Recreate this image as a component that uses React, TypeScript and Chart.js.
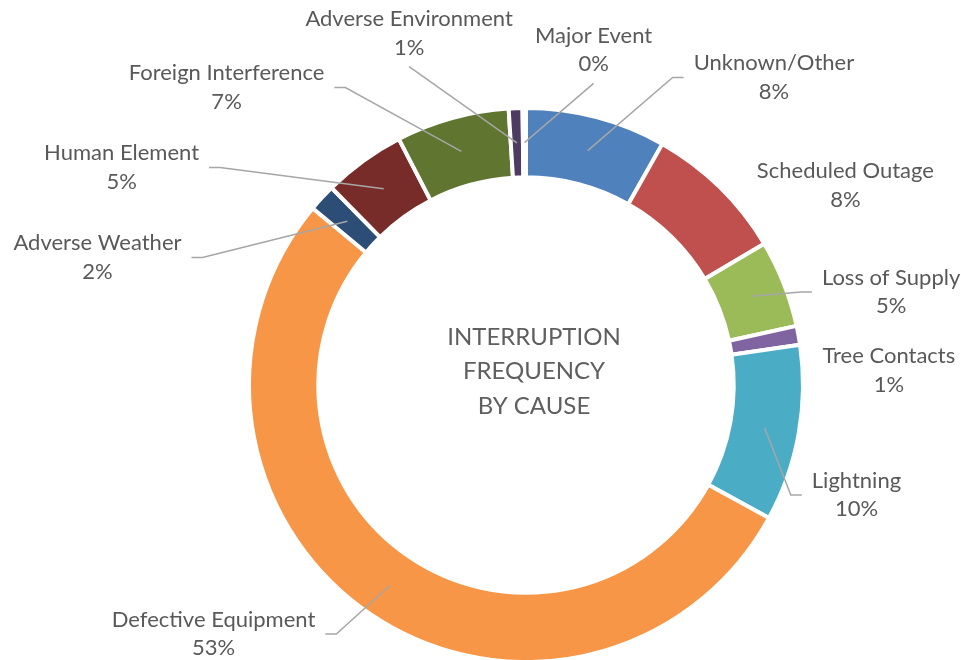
import React, { useEffect, useRef } from 'react';
import { Chart, registerables } from 'chart.js';

Chart.register(...registerables);

// ---- data ----
const categories = [
  'Unknown/Other',
  'Scheduled Outage',
  'Loss of Supply',
  'Tree Contacts',
  'Lightning',
  'Defective Equipment',
  'Adverse Weather',
  'Human Element',
  'Foreign Interference',
  'Adverse Environment',
  'Major Event',
];
const shares = [8.2, 8.3, 5.1, 1.1, 10.3, 53.1, 1.6, 4.8, 6.6, 0.8, 0.2];
const sliceColors = [
  '#4F81BD', '#C0504D', '#9BBB59', '#8064A2', '#4BACC6', '#F79646',
  '#2C4D75', '#772C2A', '#5F7530', '#4D3B62', '#276A7C',
];
const centerTitle = ['INTERRUPTION', 'FREQUENCY', 'BY CAUSE'];

// ---- label layout (block centre relative to ring centre, in units of outer radius) ----
const labelPlacement: [number, number][] = [
  [0.895, -1.110],
  [1.153, -0.720],
  [1.318, -0.336],
  [1.310, -0.052],
  [1.193, 0.397],
  [-1.128, 0.899],
  [-1.547, -0.460],
  [-1.460, -0.785],
  [-1.081, -1.074],
  [-0.422, -1.269],
  [0.244, -1.209],
];
const leaderShown = [true, false, true, false, true, true, true, true, true, true, true];

const FONT = 'Lato, "Open Sans", sans-serif';
const LABEL_SIZE = 22;
const LINE_H = 28.5;
const TEXT_COLOR = '#595959';

const labelPlugin = {
  id: 'outerLabels',
  afterDatasetsDraw(chart: any) {
    const meta = chart.getDatasetMeta(0);
    const ctx: CanvasRenderingContext2D = chart.ctx;
    const total = shares.reduce((a, b) => a + b, 0);
    ctx.save();
    ctx.font = `${LABEL_SIZE}px ${FONT}`;
    ctx.textAlign = 'center';
    ctx.textBaseline = 'middle';
    ctx.strokeStyle = '#A6A6A6';
    ctx.lineWidth = 1.5;
    let cx = 0, cy = 0;
    meta.data.forEach((arc: any, i: number) => {
      const p = arc.getProps(['x', 'y', 'startAngle', 'endAngle', 'innerRadius', 'outerRadius'], true);
      cx = p.x; cy = p.y;
      const mid = (p.startAngle + p.endAngle) / 2;
      const rr = (p.innerRadius + p.outerRadius) / 2;
      const tx = p.x + Math.cos(mid) * rr;
      const ty = p.y + Math.sin(mid) * rr;
      const [fx, fy] = labelPlacement[i];
      const lx = p.x + fx * p.outerRadius;
      const ly = p.y + fy * p.outerRadius;
      const pct = Math.round((shares[i] / total) * 100) + '%';
      const lines = [categories[i], pct];
      ctx.fillStyle = TEXT_COLOR;
      ctx.fillText(lines[0], lx, ly - LINE_H / 2);
      ctx.fillText(lines[1], lx, ly + LINE_H / 2);
      if (leaderShown[i]) {
        const w = Math.max(...lines.map((l) => ctx.measureText(l).width));
        const dx = tx - lx;
        const dy = ty - ly;
        ctx.beginPath();
        if (Math.abs(dy) > Math.abs(dx) * 0.9) {
          const sy = ly + Math.sign(dy) * (LINE_H / 2 + 8 + 11);
          ctx.moveTo(lx, sy);
          ctx.lineTo(tx, ty);
        } else {
          const s = Math.sign(dx);
          const sx = lx + s * (w / 2 + 10);
          ctx.moveTo(sx, ly);
          ctx.lineTo(sx + s * 11, ly);
          ctx.lineTo(tx, ty);
        }
        ctx.stroke();
      }
    });
    // centre title
    ctx.font = `24px ${FONT}`;
    ctx.fillStyle = '#5F5F5F';
    centerTitle.forEach((t, k) => {
      ctx.fillText(t, cx + 8, cy - 13.5 + (k - 1) * 34.5);
    });
    ctx.restore();
  },
};

export default function App() {
  const ref = useRef<HTMLCanvasElement | null>(null);
  useEffect(() => {
    document.body.style.margin = '0';
    document.body.style.overflow = 'hidden';
    const canvas = ref.current;
    if (!canvas) return;
    const chart = new Chart(canvas, {
      type: 'doughnut',
      data: {
        labels: categories,
        datasets: [
          {
            data: shares,
            backgroundColor: sliceColors,
            borderColor: '#FFFFFF',
            borderWidth: 4,
            radius: 277,
          },
        ],
      },
      options: {
        responsive: false,
        animation: false,
        cutout: '75%',
        layout: { padding: { top: 110, bottom: 0, left: 91, right: 0 } },
        plugins: {
          legend: { display: false },
          tooltip: { enabled: false },
          title: { display: false },
        },
      },
      plugins: [labelPlugin],
    });
    return () => chart.destroy();
  }, []);
  return (
    <div style={{ width: 961, height: 660, background: '#fff' }}>
      <canvas ref={ref} width={961} height={660} style={{ width: 961, height: 660, display: 'block' }} />
    </div>
  );
}
